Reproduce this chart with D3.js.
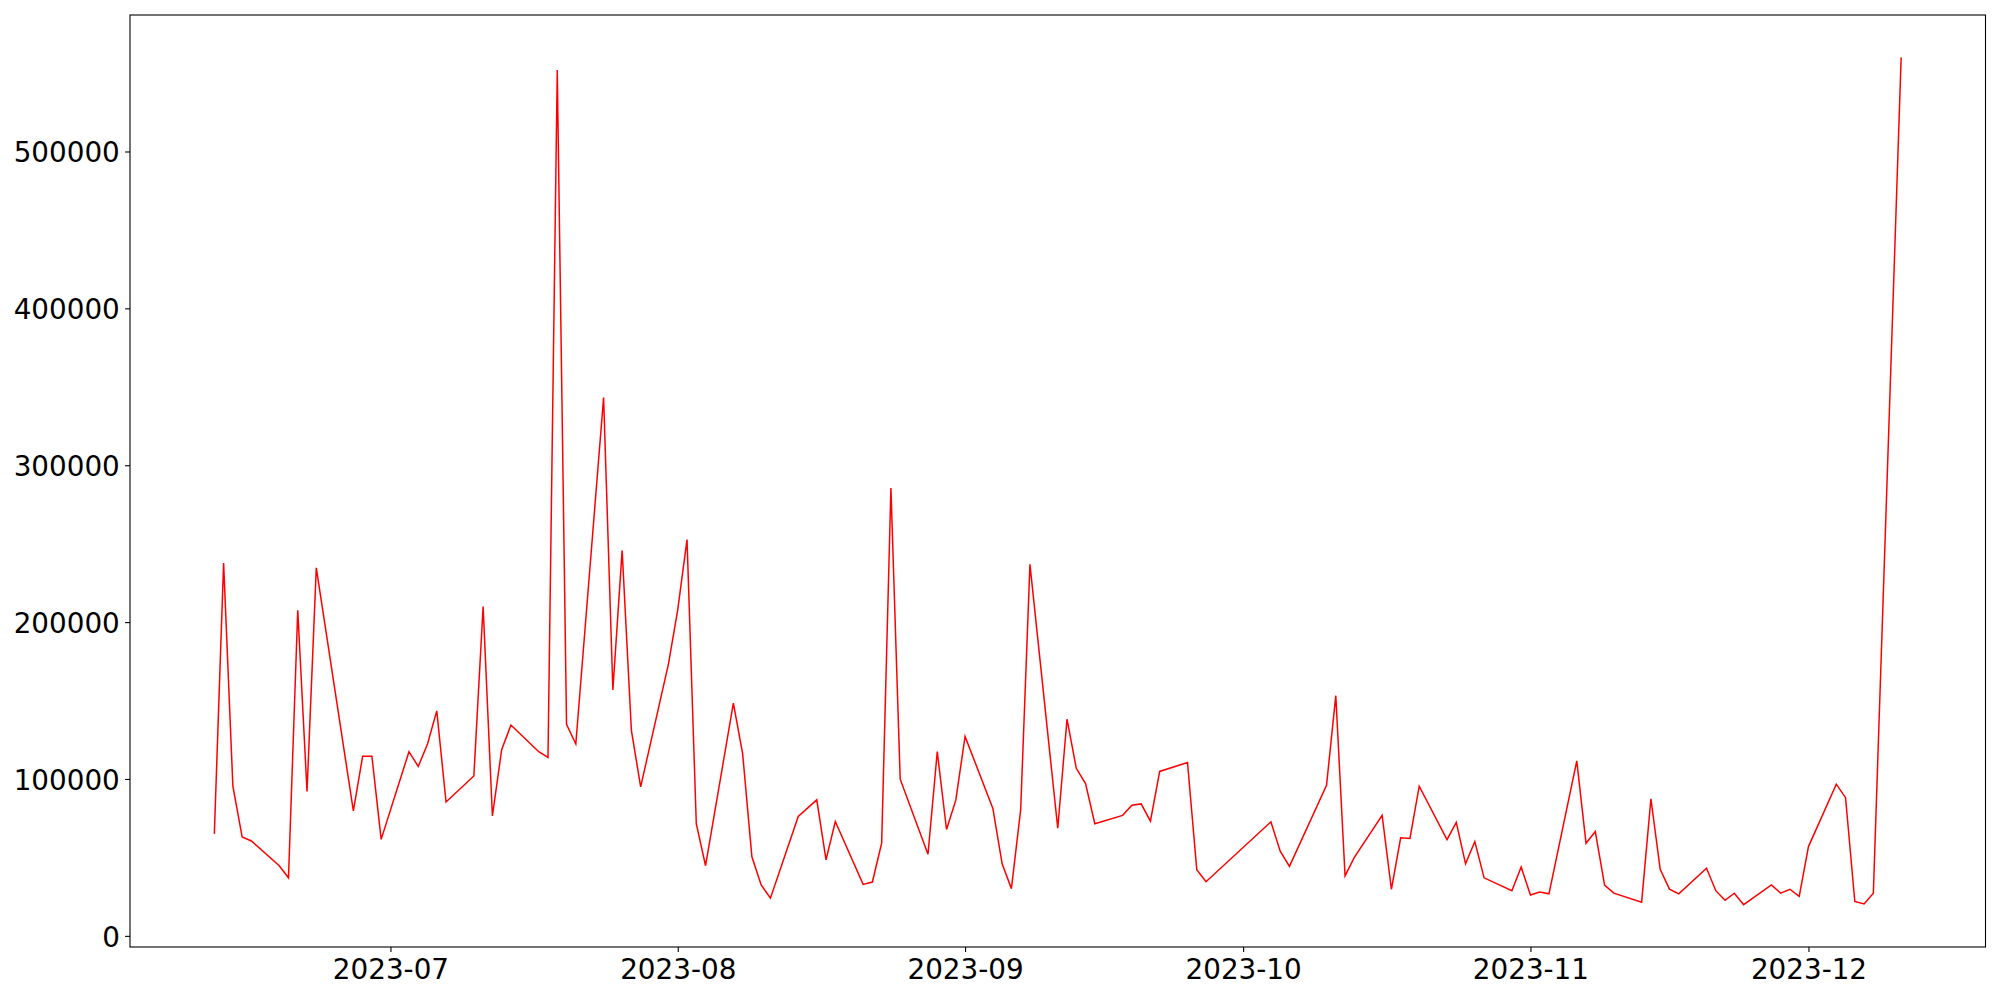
<!DOCTYPE html>
<html>
<head>
<meta charset="utf-8">
<script src="https://cdn.jsdelivr.net/npm/d3@7"></script>
<style>
  html, body { margin: 0; padding: 0; background: #fff; }
  svg { display: block; }
  text { font-family: "DejaVu Sans", sans-serif; }
</style>
</head>
<body>
<svg id="chart" width="2000" height="1000"></svg>
<script>
// ---- data ----
const dates = [
  "2023-06-12","2023-06-13","2023-06-14","2023-06-15","2023-06-16",
  "2023-06-19","2023-06-20","2023-06-21","2023-06-22","2023-06-23",
  "2023-06-27","2023-06-28","2023-06-29","2023-06-30",
  "2023-07-03","2023-07-04","2023-07-05","2023-07-06","2023-07-07",
  "2023-07-10","2023-07-11","2023-07-12","2023-07-13","2023-07-14",
  "2023-07-17","2023-07-18","2023-07-19","2023-07-20","2023-07-21",
  "2023-07-24","2023-07-25","2023-07-26","2023-07-27","2023-07-28",
  "2023-07-31","2023-08-01","2023-08-02","2023-08-03","2023-08-04",
  "2023-08-07","2023-08-08","2023-08-09","2023-08-10","2023-08-11",
  "2023-08-14","2023-08-16","2023-08-17","2023-08-18",
  "2023-08-21","2023-08-22","2023-08-23","2023-08-24","2023-08-25",
  "2023-08-28","2023-08-29","2023-08-30","2023-08-31","2023-09-01",
  "2023-09-04","2023-09-05","2023-09-06","2023-09-07","2023-09-08",
  "2023-09-11","2023-09-12","2023-09-13","2023-09-14","2023-09-15",
  "2023-09-18","2023-09-19","2023-09-20","2023-09-21","2023-09-22",
  "2023-09-25","2023-09-26","2023-09-27",
  "2023-10-04","2023-10-05","2023-10-06",
  "2023-10-10","2023-10-11","2023-10-12","2023-10-13",
  "2023-10-16","2023-10-17","2023-10-18","2023-10-19","2023-10-20",
  "2023-10-23","2023-10-24","2023-10-25","2023-10-26","2023-10-27",
  "2023-10-30","2023-10-31","2023-11-01","2023-11-02","2023-11-03",
  "2023-11-06","2023-11-07","2023-11-08","2023-11-09","2023-11-10",
  "2023-11-13","2023-11-14","2023-11-15","2023-11-16","2023-11-17",
  "2023-11-20","2023-11-21","2023-11-22","2023-11-23","2023-11-24",
  "2023-11-27","2023-11-28","2023-11-29","2023-11-30","2023-12-01",
  "2023-12-04","2023-12-05","2023-12-06","2023-12-07","2023-12-08",
  "2023-12-11"
];
const values = [
  65000, 237600, 95400, 63000, 60500,
  44700, 37000, 207600, 92000, 234600,
  79600, 114500, 114500, 61500,
  117400, 108000, 122300, 143400, 85300,
  101900, 210000, 76400, 118600, 134400,
  117400, 113700, 552000, 134800, 122300,
  343200, 156800, 245700, 130800, 95000,
  173400, 208000, 252600, 71500, 44700,
  148300, 116200, 50400, 32500, 24000,
  76100, 86700, 48500, 72900,
  32800, 34300, 59100, 285500, 99900,
  52000, 117400, 67800, 86500, 127100,
  81200, 45900, 30100, 80400, 236800,
  68600, 138100, 106800, 97100, 71500,
  76800, 83300, 84100, 73100, 104800,
  110500, 42200, 34500,
  72700, 54000, 44300,
  95900, 153100, 38200, 50000,
  76800, 29700, 62500, 62100, 95400,
  61300, 72300, 45900, 60100, 37000,
  28800, 43900, 26000, 28000, 26800,
  111500, 59000, 66500, 32300, 27200,
  21500, 87400, 42400, 29800, 26800,
  43100, 28800, 22700, 27200, 19900,
  32500, 27200, 29700, 25200, 56900,
  96700, 88100, 21900, 20300, 27200,
  560000
];
const xTickLabels = ["2023-07","2023-08","2023-09","2023-10","2023-11","2023-12"];
const yTickValues = [0, 100000, 200000, 300000, 400000, 500000];

// ---- layout ----
const W = 2000, H = 1000;
const m = {left: 130, right: 14.5, top: 15, bottom: 53};
const fontPx = 27.8;
const parse = d3.timeParse("%Y-%m-%d");
const data = dates.map((d, i) => ({date: parse(d), value: values[i]}));

const svg = d3.select("#chart");
svg.append("rect").attr("width", W).attr("height", H).attr("fill", "#fff");

const [x0, x1] = d3.extent(data, d => d.date);
const xPad = (x1 - x0) * 0.05;
const x = d3.scaleTime()
  .domain([new Date(+x0 - xPad), new Date(+x1 + xPad)])
  .range([m.left, W - m.right]);

const [y0, y1] = d3.extent(data, d => d.value);
const yPad = (y1 - y0) * 0.05;
const y = d3.scaleLinear()
  .domain([y0 - yPad, y1 + yPad])
  .range([H - m.bottom, m.top]);

const line = d3.line().x(d => x(d.date)).y(d => y(d.value));

const clipId = "plotclip";
svg.append("clipPath").attr("id", clipId).append("rect")
  .attr("x", m.left).attr("y", m.top)
  .attr("width", W - m.left - m.right).attr("height", H - m.top - m.bottom);

svg.append("path")
  .datum(data)
  .attr("clip-path", `url(#${clipId})`)
  .attr("fill", "none")
  .attr("stroke", "#ff0000")
  .attr("stroke-width", 1.5)
  .attr("stroke-linejoin", "miter")
  .attr("d", line);

// x axis
const xTicks = xTickLabels.map(s => d3.timeParse("%Y-%m")(s));
const xAxis = d3.axisBottom(x)
  .tickValues(xTicks)
  .tickFormat((d, i) => xTickLabels[i])
  .tickSizeInner(4.9).tickSizeOuter(0).tickPadding(4.9);
const gx = svg.append("g").attr("transform", `translate(0,${H - m.bottom})`).call(xAxis);
gx.select(".domain").remove();
gx.selectAll(".tick line").attr("stroke", "#000").attr("stroke-width", 1.1);
gx.selectAll(".tick text")
  .attr("font-family", "DejaVu Sans").attr("font-size", fontPx)
  .attr("fill", "#000").attr("dy", null).attr("y", 32);

// y axis
const yAxis = d3.axisLeft(y)
  .tickValues(yTickValues)
  .tickFormat(d3.format("d"))
  .tickSizeInner(4.9).tickSizeOuter(0).tickPadding(4.9);
const gy = svg.append("g").attr("transform", `translate(${m.left},0)`).call(yAxis);
gy.select(".domain").remove();
gy.selectAll(".tick line").attr("stroke", "#000").attr("stroke-width", 1.1);
gy.selectAll(".tick text")
  .attr("font-family", "DejaVu Sans").attr("font-size", fontPx)
  .attr("fill", "#000").attr("dy", null).attr("y", 10.5).attr("x", -10.2);

// frame (spines)
svg.append("rect")
  .attr("x", m.left).attr("y", m.top)
  .attr("width", W - m.left - m.right).attr("height", H - m.top - m.bottom)
  .attr("fill", "none").attr("stroke", "#000").attr("stroke-width", 1.1);
</script>
</body>
</html>
